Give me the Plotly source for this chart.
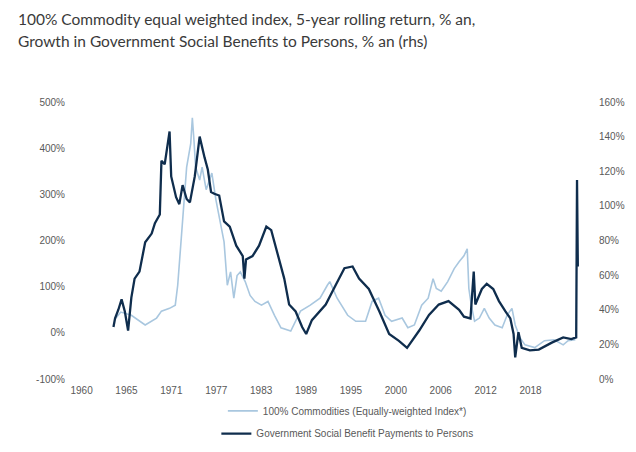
import plotly.graph_objects as go

# ---- data ----
gov_years = [1964.6, 1964.8, 1965.2, 1965.6, 1966.0, 1966.4, 1966.8, 1967.2, 1967.8, 1968.5,
             1969.3, 1969.7, 1970.3, 1970.5, 1970.9, 1971.5, 1971.7, 1972.3, 1972.7, 1973.1,
             1973.6, 1974.0, 1974.6, 1975.2, 1975.8, 1976.2, 1976.6, 1977.0, 1977.6, 1978.2,
             1978.9, 1979.7, 1980.5, 1980.7, 1980.9, 1981.7, 1982.5, 1983.4, 1984.0, 1984.6,
             1985.6, 1986.2, 1987.0, 1987.8, 1988.3, 1989.0, 1990.7, 1991.9, 1993.0, 1994.0,
             1994.8, 1996.0, 1997.3, 1998.5, 1999.7, 2000.7, 2002.2, 2003.4, 2004.6, 2005.8,
             2007.1, 2007.7, 2008.5, 2008.9, 2009.1, 2009.9, 2010.5, 2011.3, 2012.0, 2012.8,
             2013.4, 2013.8, 2014.0, 2014.4, 2014.8, 2015.8, 2016.9, 2018.5, 2019.9, 2020.9,
             2021.5, 2021.6, 2021.7]
gov_values = [30, 35, 40, 46, 39, 28, 47, 58, 62, 79,
              84, 90, 95, 126, 124, 143, 117, 105, 101, 112,
              104, 102, 117, 140, 128, 121, 108, 107, 106, 91,
              88, 77, 71, 58, 69, 71, 77, 88, 86, 75,
              58, 43, 39, 30, 26, 34, 43, 54, 64, 65,
              58, 52, 39, 26, 22, 18, 28, 37, 43, 45,
              40, 36, 35, 62, 43, 52, 55, 52, 45, 39,
              35, 26, 12.5, 27, 18, 16.5, 17, 21, 24, 23,
              24, 115, 65]

com_years = [1964.8, 1965.5, 1966.8, 1968.5, 1969.9, 1970.5, 1971.5, 1972.2, 1972.5, 1972.9,
             1973.3, 1973.6, 1974.1, 1974.3, 1974.5, 1974.7, 1975.2, 1975.5, 1976.0, 1976.7,
             1977.2, 1977.8, 1978.2, 1978.6, 1979.0, 1979.4, 1979.8, 1980.2, 1980.8, 1981.4,
             1982.0, 1982.8, 1983.6, 1984.4, 1985.2, 1986.4, 1987.6, 1988.8, 1990.0, 1990.9,
             1991.2, 1992.1, 1993.4, 1994.4, 1995.6, 1996.4, 1997.2, 1998.0, 1998.8, 2000.1,
             2000.8, 2001.6, 2002.5, 2003.3, 2003.9, 2004.3, 2004.9, 2005.7, 2006.5, 2007.1,
             2007.7, 2008.1, 2008.3, 2008.6, 2009.0, 2009.6, 2010.2, 2010.8, 2011.5, 2012.4,
             2013.0, 2013.6, 2014.0, 2014.6, 2015.2, 2016.4, 2017.6, 2018.8, 2019.9, 2020.5,
             2021.4]
com_values = [30, 45, 38, 17, 32, 47, 53, 60, 103, 203,
              288, 359, 410, 466, 417, 359, 331, 359, 310, 346,
              288, 231, 197, 103, 132, 75, 124, 132, 111, 81,
              68, 60, 68, 38, 11, 4, 47, 60, 75, 103,
              111, 75, 38, 25, 25, 68, 75, 38, 25, 32,
              11, 17, 60, 75, 117, 96, 90, 111, 139, 154,
              167, 182, 96, 60, 25, 32, 53, 32, 17, 11,
              38, 53, 17, -11, -26, -32, -17, -15, -26, -17,
              -15]

# category-style labels of the source axis, evenly spaced
x_tick_positions = [1960.68, 1966.2, 1971.72, 1977.24, 1982.76, 1988.28, 1993.8,
                    1999.32, 2004.84, 2010.36, 2015.88]
x_tick_labels = ["1960", "1965", "1971", "1977", "1983", "1989", "1995",
                 "2000", "2006", "2012", "2018"]
left_ticks = [-100, 0, 100, 200, 300, 400, 500]
right_ticks = [0, 20, 40, 60, 80, 100, 120, 140, 160]

series_names = ["100% Commodities (Equally-weighted Index*)",
                "Government Social Benefit Payments to Persons"]
title_lines = ["100% Commodity equal weighted index, 5-year rolling return, % an,",
               "Growth in Government Social Benefits to Persons, % an (rhs)"]

FONT = "Liberation Sans, Arial, sans-serif"
TITLE_FONT = "Lato, Liberation Sans, sans-serif"
LIGHT = "#a9c7df"
DARK = "#0f2d4d"

fig = go.Figure()
fig.add_trace(go.Scatter(x=com_years, y=com_values, mode="lines", name=series_names[0],
                         line=dict(color=LIGHT, width=1.6), yaxis="y", legend="legend"))
fig.add_trace(go.Scatter(x=gov_years, y=gov_values, mode="lines", name=series_names[1],
                         line=dict(color=DARK, width=2.3), yaxis="y2", legend="legend2"))

legend_style = dict(orientation="v", xanchor="center", yanchor="middle",
                    font=dict(family=FONT, size=10, color="#595959"),
                    bgcolor="rgba(0,0,0,0)", itemwidth=30)

title_font = dict(family=TITLE_FONT, size=15.5, color="#3a3a3a")

fig.update_layout(
    width=636, height=452,
    margin=dict(l=70, r=46, t=94, b=70),
    paper_bgcolor="white", plot_bgcolor="white",
    font=dict(family=FONT, size=10, color="#595959"),
    xaxis=dict(range=[1960.24, 2024.18], tickvals=x_tick_positions, ticktext=x_tick_labels,
               showgrid=False, zeroline=False, showline=False, ticks="",
               ticklabelstandoff=4),
    yaxis=dict(range=[-100, 500], tickvals=left_ticks,
               ticktext=[f"{v}%" for v in left_ticks],
               showgrid=False, zeroline=False, showline=False, ticks="",
               ticklabelstandoff=12),
    yaxis2=dict(range=[0, 160], tickvals=right_ticks,
                ticktext=[f"{v}%" for v in right_ticks],
                overlaying="y", side="right",
                showgrid=False, zeroline=False, showline=False, ticks=""),
    legend=dict(legend_style, x=0.518, y=-0.115),
    legend2=dict(legend_style, x=0.518, y=-0.197),
    showlegend=True,
    annotations=[
        dict(text=title_lines[0], xref="paper", yref="paper", x=-0.119, y=1.298,
             xanchor="left", yanchor="middle", showarrow=False, font=title_font),
        dict(text=title_lines[1], xref="paper", yref="paper", x=-0.119, y=1.2188,
             xanchor="left", yanchor="middle", showarrow=False, font=title_font),
    ],
)

fig.write_html("out.html")
